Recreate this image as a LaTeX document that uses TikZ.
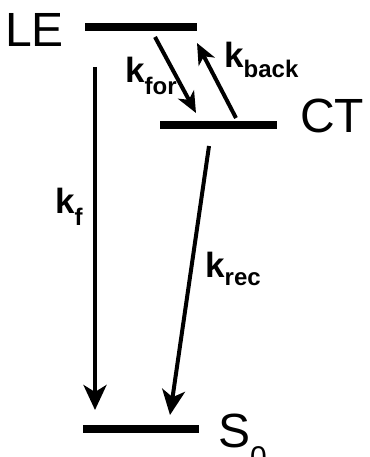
\documentclass[tikz,border=0pt]{standalone}
\usepackage{fontspec}
\setmainfont{Liberation Sans}
\usetikzlibrary{arrows.meta}
\newcommand\rateK[2]{\textbf{k}\kern-0.5pt\raisebox{-#2}{\fontsize{24}{24}\selectfont\textbf{#1}}}
\begin{document}
\begin{tikzpicture}[x=1pt,y=-1pt,
 level/.style={fill=black, inner sep=0pt, minimum height=8pt},
 state/.style={inner sep=0pt, anchor=base west, font=\fontsize{48}{50}\selectfont},
 rate/.style={inner sep=0pt, anchor=base west, font=\fontsize{35}{36}\selectfont},
 trans/.style={line width=4pt, -{Stealth[length=25pt,width=23pt,inset=7pt]}},
 transs/.style={line width=4pt, -{Stealth[length=21pt,width=18pt,inset=6pt]}},
 ]
\useasboundingbox (0,0) rectangle (369,457);
% levels
\node[level, minimum width=112pt] (LE) at (141,27) {};
\node[level, minimum width=117pt] (CT) at (218.5,125) {};
\node[level, minimum width=116pt] (S0) at (141,429) {};
% state labels
\node[state] (tLE) at (5,47) {LE};
\node[state] (tCT) at (300,133) {CT};
\node[state] (tS0) at (218,447) {S\raisebox{-20.5pt}{\fontsize{30}{30}\selectfont 0}};
% arrow endpoints
\coordinate (f1) at (95,67);
\coordinate (f2) at (95,410);
\coordinate (fo1) at (155,37);
\coordinate (fo2) at (196,113);
\coordinate (b1) at (236,118);
\coordinate (b2) at (197,43);
\coordinate (r1) at (209,146);
\coordinate (r2) at (170,415);
\draw[trans] (f1) -- (f2);
\draw[trans] (r1) -- (r2);
\draw[transs] (fo1) -- (fo2);
\draw[transs] (b1) -- (b2);
% rate labels
\node[rate] (kf) at (55.5,213) {\rateK{f}{12pt}};
\node[rate] (kfor) at (125.5,83) {\rateK{for}{12pt}};
\node[rate] (kback) at (224.5,68) {\rateK{back}{10pt}};
\node[rate] (krec) at (205.5,277) {\rateK{rec}{8pt}};
\end{tikzpicture}
\end{document}
